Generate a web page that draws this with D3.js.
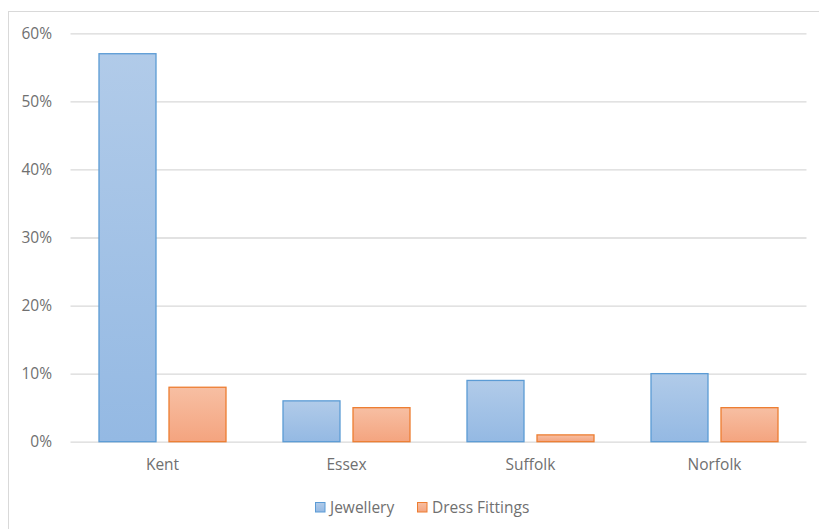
<!DOCTYPE html>
<html><head><meta charset="utf-8">
<script src="https://cdn.jsdelivr.net/npm/d3@7"></script>
<style>html,body{margin:0;padding:0;background:#fff;overflow:hidden}</style>
</head><body>
<svg id="chart" width="819" height="529"></svg>
<script>
const categories = ["Kent", "Essex", "Suffolk", "Norfolk"];
const seriesNames = ["Jewellery", "Dress Fittings"];
const jewellery = [0.57, 0.06, 0.09, 0.10];
const dressFittings = [0.08, 0.05, 0.01, 0.05];
const yTicks = [0, 0.1, 0.2, 0.3, 0.4, 0.5, 0.6];

const svg = d3.select("#chart");
const font = "'Open Sans', 'Liberation Sans', sans-serif";
const fs = "15.5px";
const txtColor = "#707070";
const defs = svg.append("defs");
const g1 = defs.append("linearGradient").attr("id","gBlue").attr("x1",0).attr("y1",0).attr("x2",0).attr("y2",1);
g1.append("stop").attr("offset","0%").attr("stop-color","#b1cbe9");
g1.append("stop").attr("offset","100%").attr("stop-color","#94b9e3");
const g2 = defs.append("linearGradient").attr("id","gOrange").attr("x1",0).attr("y1",0).attr("x2",0).attr("y2",1);
g2.append("stop").attr("offset","0%").attr("stop-color","#f7bfa3");
g2.append("stop").attr("offset","100%").attr("stop-color","#f4a47f");
const fills = ["url(#gBlue)", "url(#gOrange)"];
const strokes = ["#5b9bd5", "#ed7d31"];

svg.append("rect").attr("x",8.5).attr("y",11.5).attr("width",830).attr("height",540)
  .attr("fill","none").attr("stroke","#d9d9d9").attr("stroke-width",1);

const left = 70.5, right = 806.5;
const y = d3.scaleLinear().domain([0, 0.6]).range([441.7, 33.3]);
const x0 = d3.scaleBand().domain(categories).range([left, right]).padding(0);
const x1 = d3.scaleBand().domain(seriesNames).range([28, 156]).paddingInner(0.1714).paddingOuter(0);

const yAxis = d3.axisLeft(y).tickValues(yTicks).tickFormat(d3.format(".0%")).tickSize(-(right - left)).tickPadding(18.5);
const ya = svg.append("g").attr("transform", `translate(${left},0)`).call(yAxis);
ya.select(".domain").remove();
ya.selectAll(".tick line").attr("stroke","#d9d9d9").attr("stroke-width",1.3);
ya.selectAll(".tick text").attr("fill",txtColor).style("font-family",font).style("font-size",fs);

const data = categories.map((c,i)=>({cat:c, vals:[jewellery[i], dressFittings[i]]}));
const groups = svg.selectAll("g.cat").data(data).join("g").attr("class","cat")
  .attr("transform", d=>`translate(${x0(d.cat)},0)`);
groups.selectAll("rect").data(d=>d.vals.map((v,j)=>({v, s:seriesNames[j], j})))
  .join("rect")
  .attr("x", d=>x1(d.s)+0.5).attr("width", x1.bandwidth()-1)
  .attr("y", d=>y(d.v)).attr("height", d=>y(0)-y(d.v))
  .attr("fill", d=>fills[d.j]).attr("stroke", d=>strokes[d.j]).attr("stroke-width",1.3);

const xAxis = d3.axisBottom(x0).tickSize(0).tickPadding(17);
const xa = svg.append("g").attr("transform","translate(0,441.7)").call(xAxis);
xa.select(".domain").remove();
xa.selectAll(".tick text").attr("fill",txtColor).style("font-family",font).style("font-size",fs);

const legendX = [315, 417];
const lg = svg.append("g");
seriesNames.forEach((s,i)=>{
  lg.append("rect").attr("x",legendX[i]+0.5).attr("y",502.5).attr("width",9.5).attr("height",9.5)
    .attr("fill",fills[i]).attr("stroke",strokes[i]).attr("stroke-width",1);
  lg.append("text").attr("x",legendX[i]+15).attr("y",513).text(s)
    .attr("fill",txtColor).style("font-family",font).style("font-size",fs);
});
</script>
</body></html>
